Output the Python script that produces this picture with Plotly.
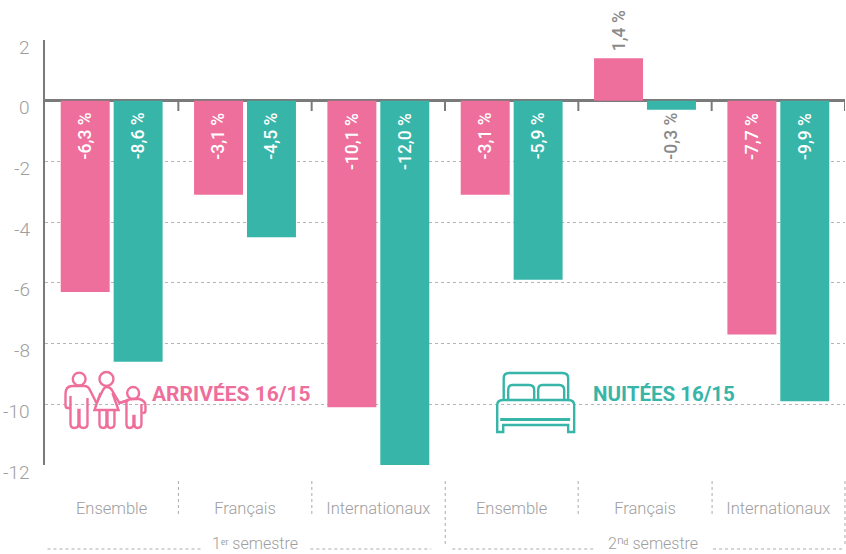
import re
import plotly.graph_objects as go

categories = ["Ensemble", "Français", "Internationaux", "Ensemble", "Français", "Internationaux"]
arrivees = [-6.3, -3.1, -10.1, -3.1, 1.4, -7.7]
nuitees = [-8.6, -4.5, -12.0, -5.9, -0.3, -9.9]
y_ticks = [2, 0, -2, -4, -6, -8, -10, -12]
semestres = ["1ᵉʳ semestre", "2ⁿᵈ semestre"]

PINK = "#EE6F9C"
TEAL = "#36B5A8"
GREY = "#9E9E9E"
AXIS = "#7A7A7A"
FONT = "Roboto"
W, H = 846, 554
L, R, T, B = 44.5, 1, 40, 89
PW, PH = W - L - R, H - T - B


def px(x, y):
    return (x - L) / PW, 1 - (y - T) / PH


def path(d, color, width=2.4, fill=None):
    def rep(m):
        a, b = px(float(m.group(1)), float(m.group(2)))
        return f"{a:.5f},{b:.5f}"
    return dict(type="path", xref="paper", yref="paper", path=re.sub(r"(-?[\d.]+),(-?[\d.]+)", rep, d),
                line=dict(color=color, width=width), fillcolor=fill, layer="above")


def circle(cx, cy, r, color, width=2.4):
    x0, y0 = px(cx - r, cy + r)
    x1, y1 = px(cx + r, cy - r)
    return dict(type="circle", xref="paper", yref="paper", x0=x0, y0=y0, x1=x1, y1=y1,
                line=dict(color=color, width=width), layer="above")


def dashed(x0, y0, x1, y1):
    a, b = px(x0, y0)
    c, d = px(x1, y1)
    return dict(type="line", xref="paper", yref="paper", x0=a, y0=b, x1=c, y1=d,
                line=dict(color="#ABABAB", width=1, dash="3px,3px"))


xs = list(range(len(categories)))
fig = go.Figure()
fig.add_bar(x=xs, y=arrivees, name="Arrivées 16/15", marker=dict(color=PINK, line_width=0))
fig.add_bar(x=xs, y=nuitees, name="Nuitées 16/15", marker=dict(color=TEAL, line_width=0))

annotations = []
OFF = 0.1985
for i in xs:
    for vals, sign in ((arrivees, -1), (nuitees, 1)):
        v = vals[i]
        label = f"{v:.1f}".replace(".", ",") + " %"
        pos = v > 0
        small = abs(v) < 1
        annotations.append(dict(
            x=i + sign * OFF, y=v if pos else 0, xref="x", yref="y", text=label, textangle=-90,
            showarrow=False, yanchor="bottom" if pos else "top", yshift=5 if pos else -10,
            font=dict(family=FONT, size=17.5, color="#8A8A8A" if (pos or small) else "white", weight=500),
        ))

for v in y_ticks:
    annotations.append(dict(x=px(31, 0)[0], y=v, xref="paper", yref="y", text=str(v), showarrow=False,
                            xanchor="right", yanchor="middle", yshift=-7,
                            font=dict(family=FONT, size=19, color=GREY, weight=300)))

for label, x, y, c, s in (("ARRIVÉES 16/15", 152, 394, PINK, 21), ("NUITÉES 16/15", 593, 394, TEAL, 20.5)):
    a, b = px(x, y)
    annotations.append(dict(x=a, y=b, xref="paper", yref="paper", text=label, showarrow=False,
                            xanchor="left", yanchor="middle", xshift=-2,
                            font=dict(family=FONT, size=s, color=c, weight=700)))
for label, x in zip(semestres, (255, 653)):
    a, b = px(x, 543)
    annotations.append(dict(x=a, y=b, xref="paper", yref="paper", text=label, showarrow=False,
                            xanchor="center", yanchor="middle", borderpad=0,
                            font=dict(family=FONT, size=16, color=GREY, weight=300)))

shapes = []
for i in range(1, len(categories) + 1):
    shapes.append(dict(type="line", xref="x", yref="paper", x0=i - 0.5, x1=i - 0.5,
                       y0=px(0, 101)[1], y1=px(0, 111)[1], line=dict(color=AXIS, width=2)))
for x, bottom in ((178, 514), (311.5, 514), (445, 547), (578, 514), (712, 514), (845, 547)):
    shapes.append(dashed(x, 481, x, bottom))
for x0, x1 in ((47, 203), (310, 431), (452, 595), (713, 845)):
    shapes.append(dashed(x0, 549, x1, 549))

# pictogramme famille
shapes += [
    circle(78.7, 379, 6.4, PINK),
    path("M70,408 L67,408 Q65,408 65,405 L65,394 Q65,386 72,386 L84,386 Q88,386 90,391 L96,403", PINK),
    path("M70,396 L70,424 Q70,428 74,428 Q78,428 78,424 L78,410 L79,410 L79,424 Q79,428 83,428 Q87,428 87,424 L87,398", PINK),
    circle(106, 379, 7, PINK),
    path("M96,403 L102,391 Q104,387 106,387 Q110,387 112,391 L119,403 L128,400", PINK),
    path("M100,393 L94,410 L118,410 L112,393", PINK),
    path("M99,410 L99,424 Q99,428 103,428 Q106,428 106,424 L106,411 L107,411 L107,424 Q107,428 110,428 Q114,428 114,424 L114,410", PINK),
    circle(132.7, 393, 6, PINK),
    path("M119,403 L126,401 Q128,399 133,399 L139,399 Q145,401 145,405 L145,411 Q145,413 142,413", PINK),
    path("M126,401 L126,424 Q126,428 129,428 Q133,428 133,424 L133,416 L134,416 L134,424 Q134,428 137,428 Q141,428 141,424 L141,404", PINK),
]
# pictogramme lit
shapes += [
    path("M503.5,400 L503.5,378 Q503.5,373 509,373 L562,373 Q568,373 568,378 L568,400", TEAL),
    path("M508,400 L508,390 Q508,385 512,385 L529,385 Q534,385 534,390 L534,400", TEAL),
    path("M538,400 L538,390 Q538,385 542,385 L559,385 Q564,385 564,390 L564,400", TEAL),
    path("M497,432 L497,405 Q497,400 503,400 L568,400 Q574,400 574,405 L574,432 L568,432 L568,425 L503,425 L503,432 Z", TEAL),
    path("M500,419.5 L570,419.5", TEAL, width=3),
]

fig.update_layout(
    width=W, height=H, margin=dict(l=L, r=R, t=T, b=B, autoexpand=False),
    paper_bgcolor="white", plot_bgcolor="white", showlegend=False,
    barmode="group", bargap=0.206, bargroupgap=0.075,
    font=dict(family=FONT, color=GREY),
    annotations=annotations, shapes=shapes,
    xaxis=dict(range=[-0.5, 5.5], tickmode="array", tickvals=xs, ticktext=categories, showgrid=False,
               showline=False, zeroline=False, ticks="", ticklabelstandoff=31,
               tickfont=dict(family=FONT, size=16.5, color=GREY, weight=300)),
    yaxis=dict(range=[-12, 2], tickmode="array", tickvals=y_ticks, showticklabels=False,
               showgrid=True, gridcolor="#B5B5B5", griddash="3px,3px", gridwidth=1,
               zeroline=True, zerolinecolor=AXIS, zerolinewidth=2.5,
               showline=True, linecolor=AXIS, linewidth=2, ticks=""),
)
fig.write_html("out.html", config=dict(displayModeBar=False), post_script="document.body.style.margin='0';")
